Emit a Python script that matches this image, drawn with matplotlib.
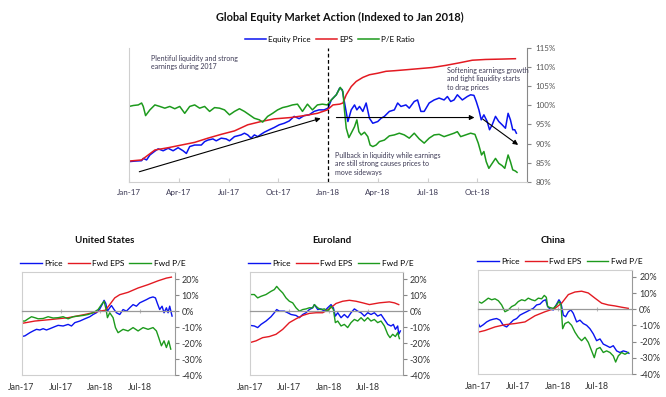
import matplotlib
matplotlib.use("Agg")
import matplotlib.pyplot as plt

plt.rcParams['font.family'] = ['Lato', 'DejaVu Sans']

# ---- data (months since Jan-2017, value) ----
top_price = [(0.0, 85.25), (0.36, 85.4), (0.76, 85.5), (0.86, 86.1), (1.06, 85.7), (1.26, 87.0), (1.56, 88.0),
             (1.76, 88.6), (2.06, 88.1), (2.36, 88.75), (2.66, 88.1), (2.96, 88.9), (3.26, 88.1), (3.46, 87.4),
             (3.66, 89.2), (3.96, 89.6), (4.36, 89.6), (4.56, 90.5), (4.76, 90.9), (5.06, 91.2), (5.26, 90.7),
             (5.56, 91.4), (5.86, 91.2), (6.06, 90.7), (6.36, 91.8), (6.76, 92.25), (6.96, 92.7), (7.16, 92.25),
             (7.36, 91.4), (7.56, 92.25), (7.76, 91.8), (7.96, 92.4), (8.16, 92.95), (8.46, 93.6), (8.76, 94.2),
             (9.06, 94.9), (9.36, 95.3), (9.66, 95.9), (9.96, 97.1), (10.26, 96.5), (10.56, 97.3), (10.86, 97.5),
             (11.16, 98.4), (11.46, 98.8), (11.76, 98.8), (12.0, 99.25), (12.2, 101.4), (12.5, 102.75),
             (12.7, 104.5), (12.86, 104.1), (13.0, 100.6), (13.2, 95.75), (13.4, 98.8), (13.6, 100.1),
             (13.74, 98.8), (13.9, 99.7), (14.1, 98.4), (14.3, 100.6), (14.5, 96.6), (14.7, 95.3), (15.0, 95.75),
             (15.2, 96.6), (15.4, 97.1), (15.7, 98.4), (16.0, 98.8), (16.2, 100.6), (16.4, 99.7), (16.7, 100.1),
             (16.9, 99.25), (17.2, 101.0), (17.4, 101.4), (17.6, 98.4), (17.8, 98.4), (18.1, 100.6), (18.4, 101.4),
             (18.7, 101.9), (19.0, 101.4), (19.2, 102.3), (19.4, 101.0), (19.6, 101.4), (19.8, 102.75),
             (20.1, 101.4), (20.4, 102.3), (20.6, 102.75), (20.8, 102.6), (20.94, 101.0), (21.1, 98.8),
             (21.24, 96.2), (21.4, 97.5), (21.6, 95.75), (21.74, 93.6), (21.9, 94.9), (22.1, 97.1), (22.3, 95.75),
             (22.5, 94.9), (22.7, 94.0), (22.86, 97.9), (23.0, 96.2), (23.14, 93.6), (23.26, 93.6), (23.36, 92.7)]
top_eps = [(0.0, 85.4), (0.76, 85.7), (1.16, 87.0), (1.56, 88.3), (2.36, 88.9), (3.16, 89.6), (3.96, 90.3),
           (4.76, 91.4), (5.56, 92.4), (6.36, 93.3), (7.16, 94.9), (7.96, 95.75), (8.76, 96.45), (9.76, 96.8),
           (10.56, 97.3), (11.36, 97.9), (11.96, 98.8), (12.3, 100.1), (12.7, 100.3), (12.9, 100.6),
           (13.1, 102.75), (13.4, 104.9), (13.7, 106.25), (14.1, 107.3), (14.5, 108.0), (15.0, 108.4),
           (15.5, 108.9), (16.0, 109.05), (16.7, 109.3), (17.5, 109.6), (18.3, 109.9), (19.1, 110.45),
           (19.9, 111.1), (20.7, 111.8), (21.5, 112.0), (22.5, 112.1), (23.3, 112.2)]
top_pe = [(0.0, 99.7), (0.26, 99.95), (0.56, 100.1), (0.76, 100.6), (0.86, 99.7), (1.0, 97.3), (1.26, 98.8),
          (1.56, 100.1), (1.86, 99.7), (2.16, 99.25), (2.46, 99.7), (2.76, 99.1), (3.06, 99.7), (3.36, 97.9),
          (3.66, 99.7), (3.96, 100.1), (4.26, 99.25), (4.56, 99.7), (4.86, 98.4), (5.16, 99.4), (5.46, 99.25),
          (5.76, 98.8), (6.06, 97.5), (6.36, 98.4), (6.66, 99.1), (6.96, 98.4), (7.26, 97.5), (7.56, 96.6),
          (7.86, 96.2), (8.06, 95.6), (8.36, 97.1), (8.66, 97.9), (8.96, 98.8), (9.26, 99.4), (9.56, 99.7),
          (9.86, 100.1), (10.16, 100.3), (10.46, 98.4), (10.76, 100.3), (11.06, 98.8), (11.36, 100.1),
          (11.66, 100.3), (11.96, 100.1), (12.2, 101.4), (12.5, 102.75), (12.74, 104.7), (12.9, 103.6),
          (13.0, 98.4), (13.1, 94.0), (13.26, 91.55), (13.4, 92.7), (13.6, 94.4), (13.74, 96.2), (13.86, 93.1),
          (14.0, 92.25), (14.2, 92.95), (14.4, 91.8), (14.54, 89.6), (14.7, 89.2), (14.9, 89.6), (15.1, 90.5),
          (15.4, 90.9), (15.7, 92.0), (16.0, 92.25), (16.3, 92.7), (16.6, 92.25), (16.9, 91.4), (17.2, 92.7),
          (17.5, 91.2), (17.8, 90.1), (18.1, 91.4), (18.4, 92.25), (18.7, 92.4), (19.0, 91.8), (19.3, 92.25),
          (19.6, 92.7), (19.8, 93.1), (20.0, 91.8), (20.3, 92.25), (20.6, 92.7), (20.86, 92.4), (21.06, 90.1),
          (21.26, 87.0), (21.4, 87.9), (21.54, 85.25), (21.7, 83.5), (21.9, 84.8), (22.1, 86.1), (22.3, 84.8),
          (22.5, 84.2), (22.66, 83.5), (22.86, 87.0), (23.0, 85.25), (23.14, 83.1), (23.3, 82.8), (23.4, 82.45)]

us_price = [(0.0, -15.9), (0.51, -15.5), (1.27, -13.5), (1.77, -12.4), (2.28, -11.4), (2.79, -11.8), (3.29, -11.0),
            (3.8, -11.8), (4.31, -11.0), (5.07, -9.7), (5.57, -8.9), (6.33, -9.3), (7.09, -8.3), (7.6, -9.3),
            (8.11, -7.2), (8.87, -6.2), (9.63, -4.8), (10.39, -3.5), (10.89, -2.1), (11.4, -1.0), (11.9, 1.4),
            (12.26, 4.1), (12.56, 6.8), (12.82, 4.8), (13.07, 0.0), (13.42, 2.1), (13.68, 3.5), (14.08, 1.0),
            (14.44, -1.0), (14.94, -2.1), (15.45, 1.0), (15.96, 0.0), (16.46, 2.1), (16.97, 4.1), (17.48, 3.1),
            (17.98, 5.2), (18.49, 6.2), (19.0, 7.2), (19.5, 8.3), (20.0, 8.9), (20.37, 8.3), (20.67, 4.8),
            (21.02, 1.0), (21.38, 3.1), (21.68, -1.0), (22.04, 2.1), (22.29, -1.0), (22.54, 3.1), (22.9, -3.1)]
us_eps = [(0.0, -7.7), (2.03, -6.2), (4.56, -5.2), (7.09, -4.1), (9.63, -2.1), (11.9, 0.0), (12.77, 0.6),
          (13.42, 4.1), (14.18, 8.3), (14.94, 10.3), (16.21, 11.8), (17.73, 14.5), (19.25, 16.6), (20.77, 19.0),
          (22.04, 20.7), (22.8, 21.3)]
us_pe = [(0.0, -6.2), (0.51, -6.2), (1.01, -4.8), (1.52, -3.5), (2.03, -4.1), (2.53, -4.8), (3.29, -4.6),
         (4.05, -3.5), (4.81, -4.3), (5.57, -4.1), (6.33, -3.5), (7.09, -4.8), (7.85, -3.5), (8.61, -3.1),
         (9.37, -2.7), (10.13, -2.1), (10.89, -1.0), (11.65, 1.0), (12.16, 4.1), (12.56, 6.2), (12.87, 1.0),
         (13.07, -4.1), (13.42, -1.0), (13.93, -4.1), (14.29, -10.3), (14.69, -13.5), (15.45, -11.4),
         (16.21, -12.4), (16.97, -10.3), (17.73, -12.4), (18.49, -10.3), (19.25, -11.4), (20.01, -10.3),
         (20.52, -12.4), (20.87, -16.6), (21.28, -21.7), (21.68, -18.6), (22.04, -22.8), (22.39, -18.6),
         (22.7, -23.8)]

eu_price = [(0.0, -8.9), (0.66, -9.3), (1.17, -10.3), (1.68, -8.3), (2.44, -6.2), (3.2, -3.5), (3.71, -1.0),
            (4.07, 1.0), (4.48, 0.0), (5.24, 0.0), (5.75, -1.0), (6.26, -2.1), (7.02, -2.7), (7.53, -4.1),
            (8.04, -2.1), (8.55, -1.0), (9.05, 1.0), (9.56, 2.1), (9.82, 4.1), (10.33, 1.0), (10.83, 1.4),
            (11.34, 0.0), (11.85, 2.1), (12.36, 4.1), (12.72, 2.1), (13.02, -3.1), (13.38, -1.0), (13.89, -4.1),
            (14.39, -2.1), (14.9, -4.1), (15.41, -1.0), (15.92, 1.4), (16.43, 0.0), (16.94, -1.0), (17.45, -3.1),
            (17.96, -1.0), (18.46, -2.1), (18.97, -1.0), (19.48, -3.1), (19.99, -2.1), (20.5, -5.2),
            (21.01, -8.3), (21.52, -9.3), (21.87, -8.3), (22.18, -11.4), (22.53, -9.3), (22.69, -14.5),
            (22.94, -12.4)]
eu_eps = [(0.0, -19.7), (0.92, -18.6), (1.93, -16.6), (2.95, -15.9), (3.97, -14.5), (4.99, -11.4), (6.0, -7.2),
          (7.02, -4.8), (8.04, -2.7), (9.05, -1.4), (10.07, -1.0), (11.09, -1.0), (12.11, 1.4), (13.12, 4.8),
          (14.14, 6.2), (15.16, 6.8), (16.17, 6.2), (17.19, 5.2), (18.21, 4.1), (19.74, 5.2), (21.26, 5.8),
          (22.02, 5.2), (22.69, 4.1)]
eu_pe = [(0.0, 10.4), (0.66, 10.4), (1.17, 8.3), (1.68, 9.3), (2.44, 10.4), (3.2, 12.4), (3.71, 13.5),
         (4.07, 15.5), (4.48, 13.5), (4.99, 11.4), (5.49, 8.3), (6.0, 6.2), (6.51, 5.2), (7.02, 2.1), (7.53, 0.0),
         (8.04, 1.0), (8.55, 1.4), (9.05, 2.1), (9.56, 2.1), (9.82, 4.1), (10.33, 2.1), (10.83, 1.0),
         (11.34, 1.4), (11.85, 0.0), (12.36, 3.1), (12.72, 1.0), (13.02, -7.2), (13.38, -6.2), (13.89, -9.3),
         (14.39, -8.3), (14.9, -10.3), (15.41, -7.2), (15.92, -5.2), (16.43, -6.2), (16.94, -4.1),
         (17.45, -6.2), (17.96, -4.1), (18.46, -6.2), (18.97, -5.2), (19.48, -7.2), (19.99, -6.2),
         (20.5, -9.3), (21.01, -14.5), (21.36, -16.6), (21.77, -14.5), (22.18, -15.9), (22.53, -13.5),
         (22.79, -17.2)]

cn_price = [(0.0, -8.8), (0.25, -10.9), (0.76, -9.5), (1.26, -7.8), (1.77, -6.7), (2.27, -6.1), (2.77, -5.7),
            (3.28, -6.7), (3.78, -9.9), (4.29, -10.9), (4.79, -8.8), (5.3, -6.7), (5.8, -5.7), (6.3, -3.6),
            (6.81, -2.5), (7.31, -1.5), (7.82, -0.4), (8.32, 0.6), (8.82, 2.7), (9.33, 3.2), (9.83, 5.3),
            (10.19, 5.9), (10.49, 1.7), (10.84, 0.2), (11.35, -0.4), (11.85, 3.2), (12.2, 5.9), (12.51, 3.8),
            (12.86, -3.6), (13.21, -4.6), (13.62, -1.5), (14.02, -0.4), (14.37, -2.5), (14.88, -7.8),
            (15.38, -6.7), (15.88, -8.8), (16.39, -9.9), (16.89, -12.0), (17.4, -15.2), (17.9, -19.4),
            (18.41, -18.3), (18.91, -21.5), (19.41, -22.5), (19.92, -23.6), (20.42, -22.5), (20.93, -25.7),
            (21.43, -26.7), (21.94, -25.7), (22.44, -26.3), (22.79, -27.2)]
cn_eps = [(0.0, -14.1), (1.01, -13.1), (2.52, -10.9), (4.03, -9.5), (5.55, -8.8), (7.06, -7.8), (8.57, -4.0),
          (10.09, -1.5), (11.6, 0.6), (12.61, 3.8), (13.62, 9.1), (14.62, 10.7), (15.63, 11.2), (16.64, 10.1),
          (17.65, 6.9), (18.66, 3.8), (19.67, 2.7), (20.67, 2.1), (21.68, 1.3), (22.69, 0.6)]
cn_pe = [(0.0, 4.8), (0.5, 3.8), (1.01, 5.3), (1.51, 6.9), (2.02, 5.9), (2.52, 6.5), (3.03, 5.3), (3.53, 2.7),
         (4.03, -1.5), (4.54, -0.4), (5.04, 1.7), (5.55, 2.7), (6.05, 4.8), (6.56, 5.9), (7.06, 5.3),
         (7.56, 6.9), (8.07, 5.9), (8.57, 5.3), (9.08, 6.9), (9.58, 6.5), (9.98, 8.6), (10.29, 7.4),
         (10.49, 1.7), (10.84, 1.1), (11.35, 0.6), (11.85, 2.7), (12.2, 4.8), (12.51, 2.7), (12.76, -12.0),
         (13.11, -8.8), (13.62, -7.8), (14.12, -9.9), (14.62, -14.1), (15.13, -17.3), (15.63, -19.4),
         (16.14, -17.3), (16.64, -20.4), (17.15, -25.7), (17.55, -29.9), (17.9, -24.6), (18.41, -23.6),
         (18.91, -26.7), (19.41, -25.7), (19.92, -26.7), (20.42, -28.8), (20.78, -32.6), (21.18, -28.8),
         (21.68, -26.7), (22.19, -27.8), (22.69, -26.7)]

top_xticks = [0, 3, 6, 9, 12, 15, 18, 21]
top_xlabels = ['Jan-17', 'Apr-17', 'Jul-17', 'Oct-17', 'Jan-18', 'Apr-18', 'Jul-18', 'Oct-18']
top_yticks = [80, 85, 90, 95, 100, 105, 110, 115]
bot_xticks = [0, 6, 12, 18]
bot_xlabels = ['Jan-17', 'Jul-17', 'Jan-18', 'Jul-18']
bot_yticks = [-40, -30, -20, -10, 0, 10, 20]

# arrows: (start, end) in (month, value)
top_arrows = [((0.46, 82.4), (11.72, 96.8)),
              ((12.34, 96.8), (21.0, 96.8)),
              ((21.2, 96.8), (23.6, 89.2))]

BLUE = '#0a14f0'
RED = '#e31a22'
GREEN = '#1d9a1d'
FRAME = '#cfcfcf'
TXT = '#3d3a55'

fig = plt.figure(figsize=(6.66, 3.97), dpi=100)

# ---- top chart ----
ax = fig.add_axes([0.1937, 0.5423, 0.5976, 0.3368])
for series, col, lab in [(top_price, BLUE, 'Equity Price'), (top_eps, RED, 'EPS'), (top_pe, GREEN, 'P/E Ratio')]:
    t, v = zip(*series)
    ax.plot(t, v, color=col, lw=1.1, label=lab)
ax.axvline(12, color='black', ls=(0, (3, 2)), lw=0.9)
for (x0, y0), (x1, y1) in top_arrows:
    ax.annotate('', xy=(x1, y1), xytext=(x0, y0),
                arrowprops=dict(arrowstyle='-|>', color='black', lw=0.8, mutation_scale=7))
ax.set_xlim(0, 24)
ax.set_ylim(80, 115)
ax.set_xticks(top_xticks)
ax.set_xticklabels(top_xlabels, color=TXT, fontsize=5.8)
ax.set_yticks(top_yticks)
ax.set_yticklabels([f'{y}%' for y in top_yticks], color='#555555', fontsize=5.8)
ax.yaxis.tick_right()
ax.tick_params(axis='x', direction='in', length=3, color=FRAME, pad=5)
ax.tick_params(axis='y', direction='out', length=3, color='#888888', pad=3)
ax.spines['top'].set_visible(False)
ax.spines['left'].set_color(FRAME)
ax.spines['bottom'].set_color(FRAME)
ax.spines['right'].set_color('#888888')
for s in ax.spines.values():
    s.set_linewidth(0.8)
note_kw = dict(transform=ax.transAxes, fontsize=5.0, color=TXT, va='top', linespacing=1.25)
ax.text(0.055, 0.95, 'Plentiful liquidity and strong\nearnings during 2017', **note_kw)
ax.text(0.518, 0.225, 'Pullback in liquidity while earnings\nare still strong causes prices to\nmove sideways',
        **note_kw)
ax.text(0.80, 0.86, 'Softening earnings growth\nand tight liquidity starts\nto drag prices', **note_kw)
ax.legend(loc='lower center', bbox_to_anchor=(0.505, 1.0), ncol=3, frameon=False, fontsize=5.8,
          handlelength=2.6, columnspacing=0.6, handletextpad=0.3, borderaxespad=0.25)
fig.text(0.51, 0.957, 'Global Equity Market Action (Indexed to Jan 2018)', ha='center', va='center',
         fontsize=7.9, fontweight='bold', color='#111111')

# ---- bottom charts ----
panels = [
    ('United States', [0.0323, 0.0554, 0.2300, 0.2594], us_price, us_eps, us_pe, 105),
    ('Euroland', [0.3754, 0.0554, 0.2293, 0.2594], eu_price, eu_eps, eu_pe, 332),
    ('China', [0.7182, 0.0579, 0.2312, 0.2628], cn_price, cn_eps, cn_pe, 553),
]
for title, rect, price, eps, pe, title_x in panels:
    bx = fig.add_axes(rect)
    for series, col, lab in [(price, BLUE, 'Price'), (eps, RED, 'Fwd EPS'), (pe, GREEN, 'Fwd P/E')]:
        t, v = zip(*series)
        bx.plot(t, v, color=col, lw=1.0, label=lab)
    bx.set_xlim(0, 23.3)
    bx.set_ylim(-40, 24.5)
    bx.spines['bottom'].set_position(('data', 0))
    bx.spines['bottom'].set_color('#999999')
    bx.spines['bottom'].set_linewidth(0.9)
    bx.set_xticks(bot_xticks)
    bx.tick_params(axis='x', direction='inout', length=3, color='#bbbbbb', labelbottom=False)
    sec = bx.secondary_xaxis('bottom')
    sec.set_xticks(bot_xticks)
    sec.set_xticklabels(bot_xlabels, fontsize=6.3, color='#333333')
    sec.tick_params(length=0, pad=6)
    sec.spines['bottom'].set_color(FRAME)
    sec.spines['bottom'].set_linewidth(0.8)
    bx.set_yticks(bot_yticks)
    bx.set_yticklabels([f'{y}%' for y in bot_yticks], fontsize=6.5, color='#333333')
    bx.yaxis.tick_right()
    bx.tick_params(axis='y', direction='out', length=3, color='#888888', pad=2)
    bx.spines['top'].set_color(FRAME)
    bx.spines['left'].set_color(FRAME)
    bx.spines['right'].set_color('#999999')
    for k in ('top', 'left', 'right'):
        bx.spines[k].set_linewidth(0.8)
    bx.legend(loc='lower center', bbox_to_anchor=(0.53, 1.0), ncol=3, frameon=False, fontsize=6.0,
              handlelength=2.6, columnspacing=0.6, handletextpad=0.3, borderaxespad=0.2)
    fig.text(title_x / 666, 1 - 240 / 397, title, ha='center', va='center', fontsize=7.0,
             fontweight='bold', color='#111111')

fig.savefig('out.png', dpi=100)
